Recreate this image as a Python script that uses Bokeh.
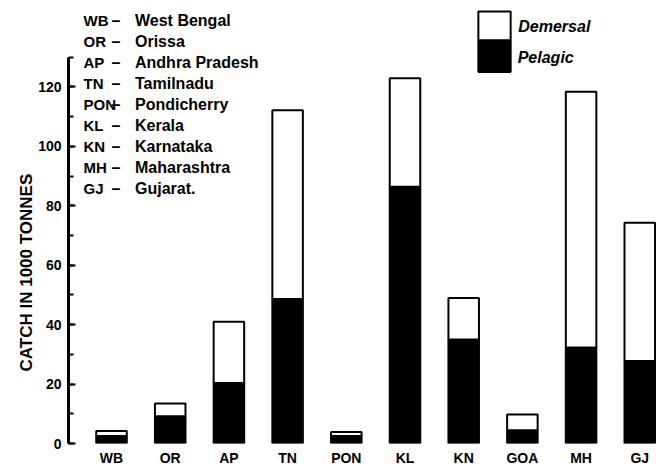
import math
from bokeh.plotting import figure
from bokeh.models import (ColumnDataSource, Range1d, FixedTicker, SingleIntervalTicker, Title)
from bokeh.core.properties import value
from bokeh.embed import file_html
from bokeh.resources import INLINE

# ---- data ----
states = ["WB", "OR", "AP", "TN", "PON", "KL", "KN", "GOA", "MH", "GJ"]
pelagic = [2.5, 9.2, 20.4, 48.6, 2.5, 86.4, 35.0, 4.5, 32.3, 27.8]
total = [4.2, 13.5, 41.0, 112.2, 3.9, 122.9, 49.0, 9.8, 118.4, 74.3]
demersal = [round(t - p, 1) for t, p in zip(total, pelagic)]

legend_abbr = ["WB", "OR", "AP", "TN", "PON", "KL", "KN", "MH", "GJ"]
legend_name = ["West Bengal", "Orissa", "Andhra Pradesh", "Tamilnadu", "Pondicherry",
               "Kerala", "Karnataka", "Maharashtra", "Gujarat."]
y_title = "CATCH IN  1000 TONNES"

FONT = value("Liberation Sans")

Y_END = 149.1
p = figure(width=656, height=468, output_backend="svg", toolbar_location=None,
           x_range=Range1d(-0.733, 9.285), y_range=Range1d(0, Y_END),
           min_border_left=68, min_border_right=0, min_border_top=0, min_border_bottom=0)
p.outline_line_color = None
p.xgrid.visible = False
p.ygrid.visible = False
p.background_fill_color = "white"

source = ColumnDataSource(dict(x=list(range(len(states))), pelagic=pelagic, demersal=demersal))
p.vbar_stack(["pelagic", "demersal"], x="x", width=0.52, source=source,
             fill_color=["black", "white"], line_color="black", line_width=2)

# x axis
xa = p.xaxis[0]
xa.ticker = FixedTicker(ticks=list(range(len(states))))
xa.major_label_overrides = {i: s for i, s in enumerate(states)}
xa.axis_line_color = None
xa.major_tick_line_color = None
xa.minor_tick_line_color = None
xa.major_label_standoff = 0
xa.major_label_text_font = "Liberation Sans"
xa.major_label_text_font_style = "bold"
xa.major_label_text_font_size = "14px"
xa.major_label_text_color = "black"

# y axis
ya = p.yaxis[0]
ya.ticker = SingleIntervalTicker(interval=20, num_minor_ticks=2)
ya.bounds = (0, 130)
ya.axis_line_width = 3
ya.axis_line_color = "black"
ya.major_tick_in = 7
ya.major_tick_out = 0
ya.minor_tick_in = 5
ya.minor_tick_out = 0
ya.major_tick_line_width = 2
ya.minor_tick_line_width = 2
ya.major_tick_line_color = "black"
ya.minor_tick_line_color = "black"
ya.major_label_standoff = 7
ya.major_label_text_font = "Liberation Sans"
ya.major_label_text_font_style = "bold"
ya.major_label_text_font_size = "14px"
ya.major_label_text_color = "black"

# y-axis title placed as a left-side title so it can sit off-centre like the original
p.add_layout(Title(text=y_title, align="left", offset=72, standoff=0,
                   text_font="Liberation Sans", text_font_style="bold",
                   text_font_size="17px", text_color="black"), "left")

# state legend (top-left)
n = len(legend_abbr)
row_y = [142.4 - 7.09 * i for i in range(n)]
p.text(x=[-0.477] * n, y=row_y, text=legend_abbr, text_font=FONT, text_font_style="bold",
       text_font_size="15px", text_baseline="middle", text_align="left", text_color="black")
p.text(x=[0.0] * n, y=row_y, text=["–"] * n, text_font=FONT, text_font_style="bold",
       text_font_size="16px", text_baseline="middle", text_align="left", text_color="black")
p.text(x=[0.4] * n, y=row_y, text=legend_name, text_font=FONT, text_font_style="bold",
       text_font_size="16px", text_baseline="middle", text_align="left", text_color="black")

# series legend (stacked box)
p.quad(left=[6.25, 6.25], right=[6.80, 6.80], bottom=[125.0, 135.7], top=[135.7, 145.4],
       fill_color=["black", "white"], line_color="black", line_width=2)
p.text(x=[6.93, 6.92], y=[140.3, 129.9], text=["Demersal", "Pelagic"], text_font=FONT,
       text_font_style="bold italic", text_font_size="16px", text_baseline="middle",
       text_align="left", text_color="black")

open("out.html", "w").write(file_html(p, INLINE))
